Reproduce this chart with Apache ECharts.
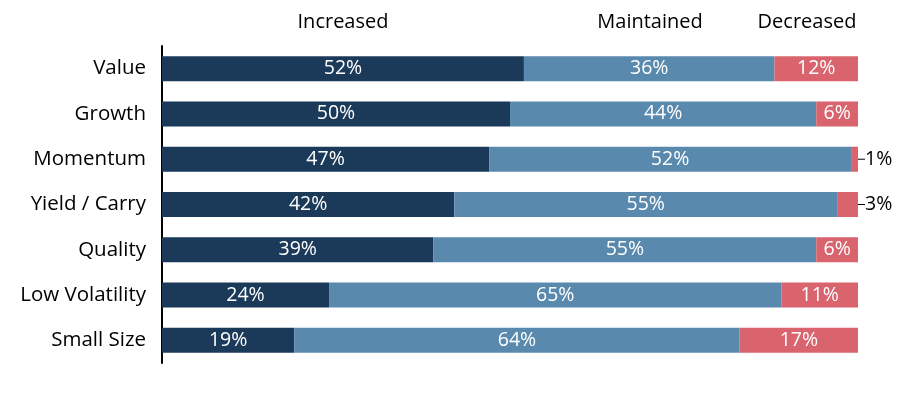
<!DOCTYPE html>
<html>
<head>
<meta charset="utf-8">
<script src="https://cdn.jsdelivr.net/npm/echarts@6/dist/echarts.min.js"></script>
<style>
  html, body { margin: 0; padding: 0; background: #fff; }
  #chart { width: 922px; height: 397px; }
</style>
</head>
<body>
<div id="chart"></div>
<script>
// factor categories, top to bottom
var categories = ['Value', 'Growth', 'Momentum', 'Yield / Carry', 'Quality', 'Low Volatility', 'Small Size'];
var increased  = [52, 50, 47, 42, 39, 24, 19];
var maintained = [36, 44, 52, 55, 55, 65, 64];
var decreased  = [12, 6, 1, 3, 6, 11, 17];
var seriesNames = ['Increased', 'Maintained', 'Decreased'];

var FONT = '"Open Sans", Lato, sans-serif';
var colors = ['#1b3a5a', '#5a89ae', '#d9646e'];

var chart = echarts.init(document.getElementById('chart'));

function pct(p) { return p.value + '%'; }

// tiny slices get the label outside with a leader line
var decreasedData = decreased.map(function (v) {
    if (v < 5) {
        return {
            value: v,
            label: { position: 'insideRight', color: '#000' },
            labelLine: { show: true, lineStyle: { color: '#000', width: 1 } }
        };
    }
    return v;
});

var baseLabel = {
    show: true,
    position: 'inside',
    color: '#fff',
    fontSize: 19.5,
    fontFamily: FONT,
    formatter: pct
};

var legendStyle = { fontSize: 20, fontFamily: FONT, fill: '#000' };

chart.setOption({
    animation: false,
    grid: { left: 162, right: 64, top: 46, bottom: 34 },
    xAxis: { type: 'value', min: 0, max: 100, show: false },
    yAxis: {
        type: 'category',
        data: categories,
        inverse: true,
        axisLine: { show: true, lineStyle: { color: '#000', width: 2 } },
        axisTick: { show: false },
        axisLabel: { color: '#000', fontSize: 20.5, fontFamily: FONT, margin: 16 }
    },
    graphic: [
        { type: 'text', x: 343, y: 22, style: Object.assign({ text: seriesNames[0], align: 'center', verticalAlign: 'middle' }, legendStyle) },
        { type: 'text', x: 650, y: 22, style: Object.assign({ text: seriesNames[1], align: 'center', verticalAlign: 'middle' }, legendStyle) },
        { type: 'text', x: 807, y: 22, style: Object.assign({ text: seriesNames[2], align: 'center', verticalAlign: 'middle' }, legendStyle) }
    ],
    series: [
        { name: seriesNames[0], type: 'bar', stack: 'all', barWidth: 25, data: increased,
          itemStyle: { color: colors[0] }, label: baseLabel },
        { name: seriesNames[1], type: 'bar', stack: 'all', barWidth: 25, data: maintained,
          itemStyle: { color: colors[1] }, label: baseLabel },
        { name: seriesNames[2], type: 'bar', stack: 'all', barWidth: 25, data: decreasedData,
          itemStyle: { color: colors[2] }, label: baseLabel,
          labelLayout: function (p) {
              if (decreased[p.dataIndex] < 5) {
                  return {
                      x: 865,
                      y: p.rect.y + p.rect.height / 2,
                      align: 'left',
                      verticalAlign: 'middle'
                  };
              }
          } }
    ]
});
</script>
</body>
</html>
